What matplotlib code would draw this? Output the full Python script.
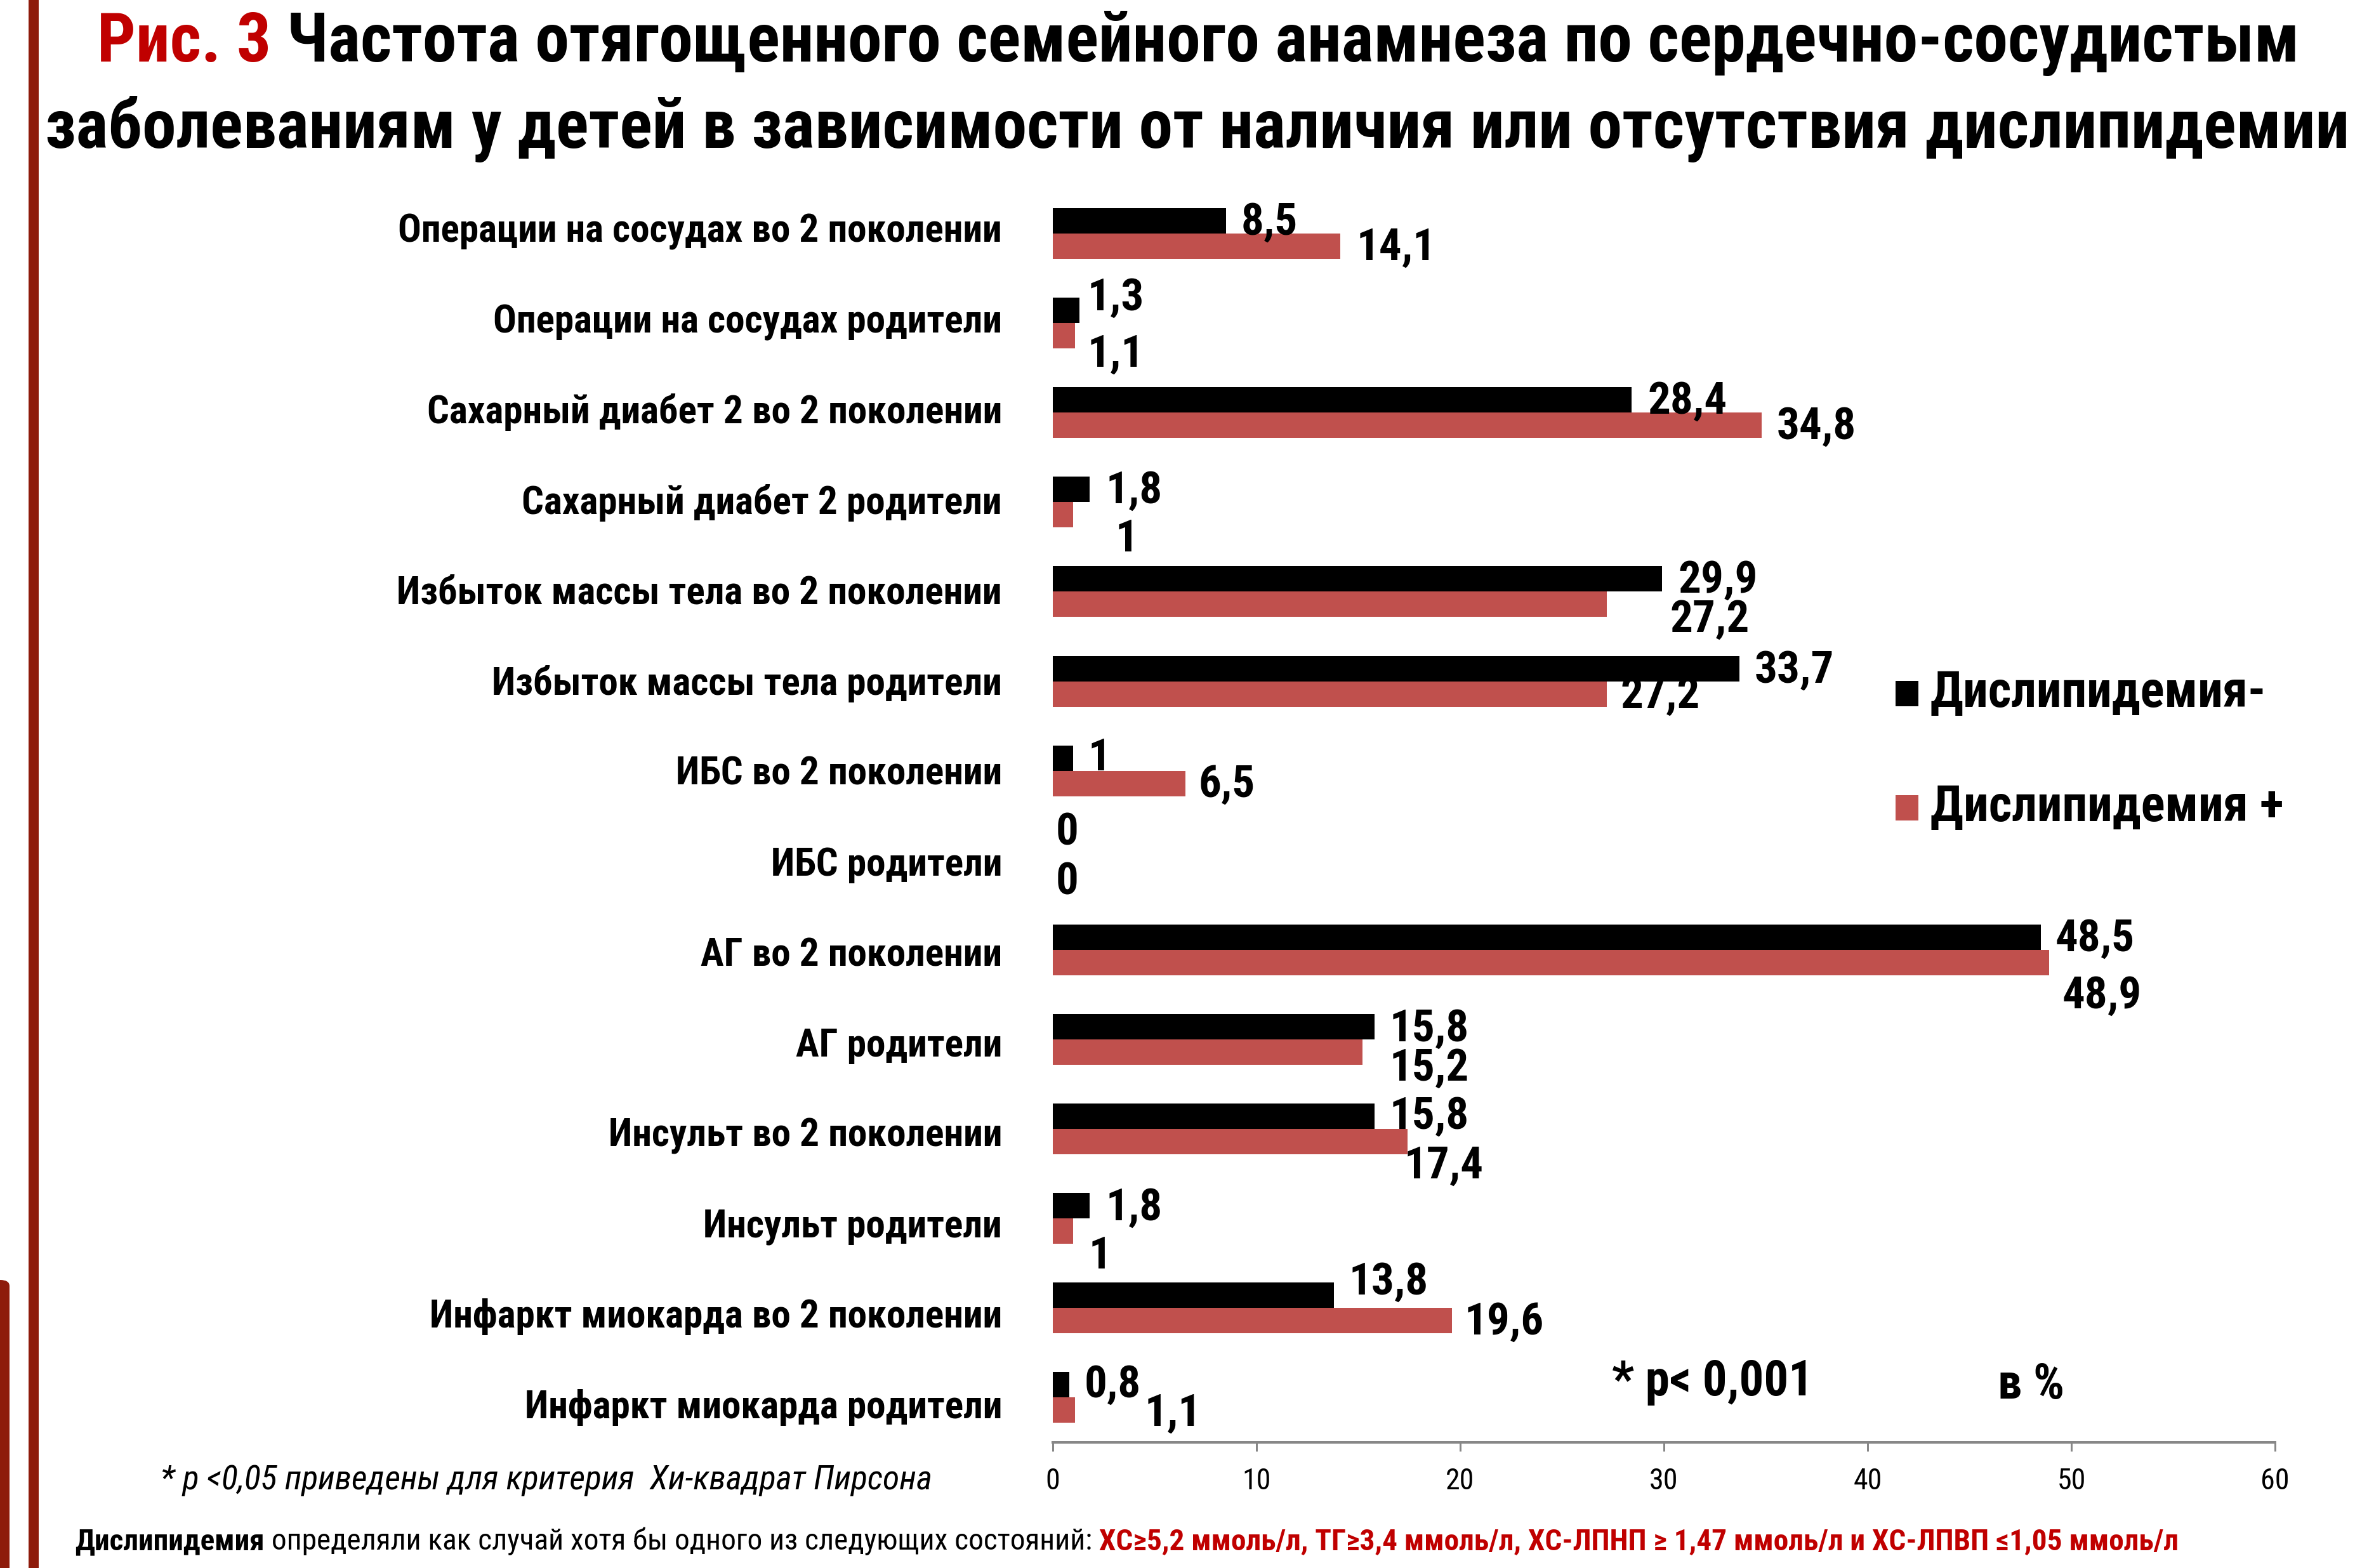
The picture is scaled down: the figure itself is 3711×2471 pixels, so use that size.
import matplotlib
matplotlib.use('Agg')
import matplotlib.pyplot as plt
from matplotlib import font_manager as fm
from matplotlib.patches import Rectangle, FancyBboxPatch
import numpy as np

# ---------------- data ----------------
categories = [
    'Операции на сосудах во 2 поколении',
    'Операции на сосудах родители',
    'Сахарный диабет 2 во 2 поколении',
    'Сахарный диабет 2 родители',
    'Избыток массы тела во 2 поколении',
    'Избыток массы тела родители',
    'ИБС во 2 поколении',
    'ИБС родители',
    'АГ во 2 поколении',
    'АГ родители',
    'Инсульт во 2 поколении',
    'Инсульт родители',
    'Инфаркт миокарда во 2 поколении',
    'Инфаркт миокарда родители',
]
dys_neg = [8.5, 1.3, 28.4, 1.8, 29.9, 33.7, 1.0, 0.0, 48.5, 15.8, 15.8, 1.8, 13.8, 0.8]
dys_pos = [14.1, 1.1, 34.8, 1.0, 27.2, 27.2, 6.5, 0.0, 48.9, 15.2, 17.4, 1.0, 19.6, 1.1]
series_names = ['Дислипидемия-', 'Дислипидемия +']
x_ticks = [0, 10, 20, 30, 40, 50, 60]

title_red = 'Рис. 3'
title_line1 = 'Частота отягощенного семейного анамнеза по сердечно-сосудистым'
title_line2 = 'заболеваниям у детей в зависимости от наличия или отсутствия дислипидемии'
p_note = '* p< 0,001'
unit_note = 'в %'
foot_note = '* p <0,05 приведены для критерия  Хи-квадрат Пирсона'
def_bold = 'Дислипидемия'
def_text = ' определяли как случай хотя бы одного из следующих состояний:'
def_red = ' ХС≥5,2 ммоль/л, ТГ≥3,4 ммоль/л, ХС-ЛПНП ≥ 1,47 ммоль/л и ХС-ЛПВП ≤1,05 ммоль/л'

# label placement offsets (style), in reference "shown" pixels: (dx right, dy down)
off_neg = [(10, 1), (5.5, -8.6), (11, 1), (11, 1), (11, 0.6), (10, 1), (10, 0), (2, -10),
           (9.5, 1), (10, 1.5), (10, 0), (11, 1.4), (10, -9), (10, 0)]
off_pos = [(11, 1), (8, 12.5), (10, 1), (28, 16), (42, 10), (9, 1), (9, 0.5), (2, 6),
           (9, 22), (18, 10.7), (-2, 16), (10.5, 16.5), (8, 1), (46, 2)]

# ---------------- fonts ----------------
names = {f.name for f in fm.fontManager.ttflist}
cond_family = None
cond_stretch = 'normal'
for cand in ['Liberation Sans Narrow', 'DejaVu Sans Condensed', 'Roboto Condensed',
             'Open Sans Condensed', 'Noto Sans Condensed']:
    if cand in names:
        cond_family = cand
        break
if cond_family is None:
    for f in fm.fontManager.ttflist:
        if f.name in ('DejaVu Sans', 'Noto Sans', 'Open Sans') and 'condensed' in str(f.stretch):
            cond_family = f.name
            cond_stretch = 'condensed'
            break
if cond_family is None:
    cond_family = 'Lato'
plt.rcParams['font.family'] = [cond_family, 'DejaVu Sans']
plt.rcParams['font.stretch'] = cond_stretch

# ---------------- figure ----------------
W, H = 3712, 2471
DPI = 200
fig = plt.figure(figsize=(W / DPI, H / DPI), dpi=DPI, facecolor='white')
renderer = fig.canvas.get_renderer()
PX2PT = 72.0 / DPI
SHOWN = W / 1568.0  # reference shown-pixel -> full pixel


def fx(px):
    return px / W


def fy(py):
    return 1 - py / H


def measure(s, size, **kw):
    t = fig.text(0, 0, s, fontsize=size, **kw)
    w = t.get_window_extent(renderer).width
    t.remove()
    return w


def fit_size(s, target_px, **kw):
    base = 20.0
    return base * target_px / measure(s, base, **kw)


# axes placement
ax_left, ax_right = 1659, 3585
ax_top, ax_bot = 297.5, 2273
ax = fig.add_axes([fx(ax_left), fy(ax_bot), (ax_right - ax_left) / W, (ax_bot - ax_top) / H])

n = len(categories)
y = np.arange(n)[::-1].astype(float)
h = 0.2835
col_neg = '#000000'
col_pos = '#C0504D'
ax.barh(y + h / 2, dys_neg, height=h, color=col_neg, label=series_names[0])
ax.barh(y - h / 2, dys_pos, height=h, color=col_pos, label=series_names[1])
ax.set_xlim(0, 60)
ax.set_ylim(-0.5, n - 0.5)

for s in ['top', 'right', 'left']:
    ax.spines[s].set_visible(False)
ax.spines['bottom'].set_color('#878787')
ax.spines['bottom'].set_linewidth(4 * PX2PT)
ax.set_xticks(x_ticks)
ax.set_xticklabels([str(t) for t in x_ticks])
ax.tick_params(axis='x', direction='out', length=14 * PX2PT, width=3 * PX2PT, color='#878787',
               labelsize=16.5, pad=9, labelcolor='black')

# category labels
cat_size = fit_size(categories[0], 952, fontweight='bold')
ax.set_yticks(y)
ax.set_yticklabels(categories, fontweight='bold', fontsize=cat_size)
ax.tick_params(axis='y', length=0, pad=(ax_left - 1579) * PX2PT)
# slight spread of the category labels as in the reference
for i, tl in enumerate(ax.get_yticklabels()):
    shift = (6.5 - i) * 0.6 * SHOWN * PX2PT  # points, upward at top rows
    tl.set_transform(tl.get_transform() + matplotlib.transforms.ScaledTranslation(0, shift / 72.0, fig.dpi_scale_trans))


# data labels
def fmt(v):
    return ('%g' % v).replace('.', ',')


lab_size = 25.5
SH2PT = SHOWN * PX2PT
for i in range(n):
    dx, dy = off_neg[i]
    ax.annotate(fmt(dys_neg[i]), xy=(dys_neg[i], y[i] + h / 2), xytext=(dx * SH2PT, -dy * SH2PT),
                textcoords='offset points', ha='left', va='center', fontsize=lab_size,
                fontweight='bold', color='black')
    dx, dy = off_pos[i]
    ax.annotate(fmt(dys_pos[i]), xy=(dys_pos[i], y[i] - h / 2), xytext=(dx * SH2PT, -dy * SH2PT),
                textcoords='offset points', ha='left', va='center', fontsize=lab_size,
                fontweight='bold', color='black')

# legend (manual)
leg_size = fit_size(series_names[1], 556, fontweight='bold')
leg_rows = [(1093, col_neg, series_names[0]), (1273, col_pos, series_names[1])]
for yc, c, lab in leg_rows:
    fig.add_artist(Rectangle((fx(2987), fy(yc + 20)), 36 / W, 40 / H, transform=fig.transFigure,
                             color=c, lw=0))
    fig.text(fx(3042), fy(yc), lab, fontsize=leg_size, fontweight='bold', va='center', ha='left')

# p-note and unit
pn_size = fit_size(p_note, 317, fontweight='bold')
fig.text(fx(2540), fy(2178), p_note, fontsize=pn_size, fontweight='bold', va='center', ha='left')
fig.text(fx(3148), fy(2183), unit_note, fontsize=pn_size, fontweight='bold', va='center', ha='left')

# footnote
fn_size = fit_size(foot_note, 1215, style='italic')
fig.text(fx(253), fy(2332), foot_note, fontsize=fn_size, style='italic', va='center', ha='left')

# definition line (mixed styles)
parts = [(def_bold, dict(fontweight='bold', color='black')),
         (def_text, dict(color='black')),
         (def_red, dict(color='#C00000', fontweight='bold'))]
tot = sum(measure(s, 20, **kw) for s, kw in parts)
d_size = 20 * 3314 / tot
xpos = 118
for s, kw in parts:
    t = fig.text(fx(xpos), fy(2429), s, fontsize=d_size, va='center', ha='left', **kw)
    xpos += t.get_window_extent(renderer).width

# title
t_size = fit_size(title_line2, 3626, fontweight='bold')
w_red = measure(title_red, t_size, fontweight='bold')
w_l1 = measure(' ' + title_line1, t_size, fontweight='bold')
x1 = 1888 - (w_red + w_l1) / 2
fig.text(fx(x1), fy(97), title_red, fontsize=t_size, fontweight='bold', color='#C00000',
         va='baseline', ha='left')
fig.text(fx(x1 + w_red), fy(97), ' ' + title_line1, fontsize=t_size, fontweight='bold',
         color='black', va='baseline', ha='left')
fig.text(fx(71), fy(233), title_line2, fontsize=t_size, fontweight='bold', color='black',
         va='baseline', ha='left')

# decorative left borders
deco = '#8E1B0B'
fig.add_artist(Rectangle((fx(45), 0), 16 / W, 1, transform=fig.transFigure, color=deco, lw=0))
fig.add_artist(FancyBboxPatch((fx(-40), fy(2471 + 40)), 55 / W, (2471 + 40 - 2017) / H,
                              boxstyle='round,pad=0,rounding_size=0.004',
                              transform=fig.transFigure, color=deco, lw=0))

fig.savefig('out.png', dpi=DPI, facecolor='white')
